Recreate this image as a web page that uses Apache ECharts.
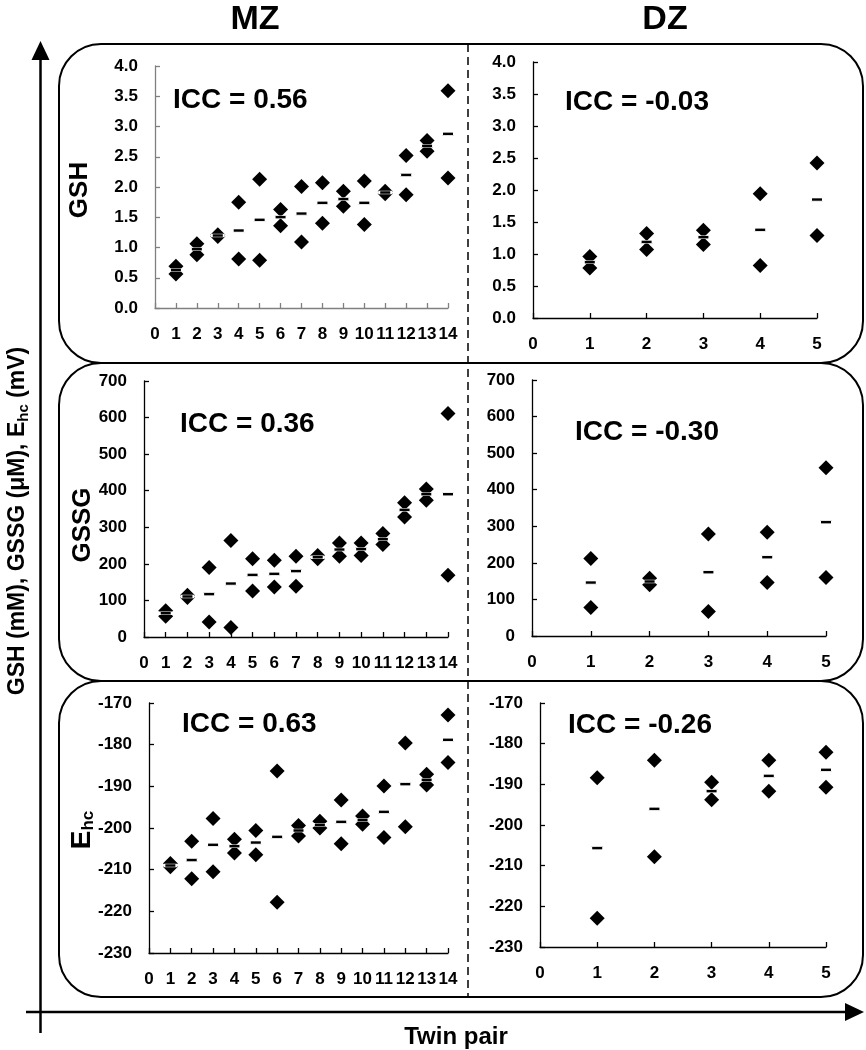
<!DOCTYPE html>
<html>
<head>
<meta charset="utf-8">
<script src="https://cdn.jsdelivr.net/npm/echarts@6/dist/echarts.min.js"></script>
<style>
html,body{margin:0;padding:0;background:#fff;}
#chart{width:866px;height:1050px;}
</style>
</head>
<body>
<div id="chart"></div>
<script>
// ---------- data ----------
const mzPairs = [1,2,3,4,5,6,7,8,9,10,11,12,13,14];
const dzPairs = [1,2,3,4,5];

const mzGshA    = [0.69, 1.06, 1.21, 1.75, 2.13, 1.63, 2.01, 2.07, 1.93, 2.10, 1.93, 2.52, 2.77, 3.59];
const mzGshB    = [0.56, 0.88, 1.18, 0.81, 0.79, 1.36, 1.09, 1.40, 1.68, 1.38, 1.89, 1.87, 2.59, 2.15];
const mzGshMean = [0.63, 0.97, 1.20, 1.28, 1.46, 1.50, 1.56, 1.74, 1.80, 1.74, 1.91, 2.20, 2.68, 2.88];

const dzGshA    = [0.96, 1.32, 1.37, 1.94, 2.42];
const dzGshB    = [0.78, 1.07, 1.15, 0.82, 1.29];
const dzGshMean = [0.87, 1.19, 1.26, 1.38, 1.85];

const mzGssgA    = [72, 114, 190, 264, 214, 210, 221, 223, 257, 257, 283, 367, 405, 611];
const mzGssgB    = [57, 108, 41, 26, 126, 137, 139, 214, 221, 223, 253, 328, 374, 169];
const mzGssgMean = [65, 111, 117, 146, 170, 173, 180, 218, 239, 240, 267, 348, 390, 390];

const dzGssgA    = [212, 158, 279, 284, 460];
const dzGssgB    = [78, 140, 67, 146, 160];
const dzGssgMean = [146, 149, 174, 215, 311];

const mzEhcA    = [-208.5, -203.2, -197.7, -202.7, -200.6, -186.3, -199.4, -198.4, -193.3, -197.1, -189.9, -179.6, -187.1, -172.9];
const mzEhcB    = [-209.3, -212.2, -210.5, -206.0, -206.4, -217.8, -201.9, -200.0, -203.8, -199.1, -202.3, -199.7, -189.7, -184.3];
const mzEhcMean = [-209.0, -207.7, -204.0, -204.4, -203.5, -202.1, -200.6, -199.2, -198.5, -198.1, -196.1, -189.5, -188.4, -178.8];

const dzEhcA    = [-188.4, -184.1, -189.5, -184.1, -182.1];
const dzEhcB    = [-222.9, -207.8, -193.8, -191.7, -190.7];
const dzEhcMean = [-205.7, -196.0, -191.7, -187.9, -186.4];

const iccLabels = ['ICC = 0.56', 'ICC = -0.03', 'ICC = 0.36', 'ICC = -0.30', 'ICC = 0.63', 'ICC = -0.26'];
const gshTicks  = {min: 0, max: 4, interval: 0.5};
const gssgTicks = {min: 0, max: 700, interval: 100};
const ehcTicks  = {min: -230, max: -170, interval: 10};

// ---------- layout ----------
const FONT = '"Liberation Sans", Arial, sans-serif';
const grids = [
  {left: 155, top: 66,  width: 293, height: 242},
  {left: 533, top: 62,  width: 284, height: 256},
  {left: 144, top: 381, width: 304, height: 256},
  {left: 532, top: 380, width: 294, height: 256},
  {left: 149, top: 703, width: 299, height: 250},
  {left: 540, top: 703, width: 286, height: 244}
];
const iccPos = [[173,100],[565,102],[180,424],[575,432],[182,724],[568,725]];

const panels = [
  {pairs: mzPairs, a: mzGshA,  b: mzGshB,  m: mzGshMean,  xmax: 14, y: gshTicks,  fmt: v => v.toFixed(1), axisColor: '#808080'},
  {pairs: dzPairs, a: dzGshA,  b: dzGshB,  m: dzGshMean,  xmax: 5,  y: gshTicks,  fmt: v => v.toFixed(1), axisColor: '#000'},
  {pairs: mzPairs, a: mzGssgA, b: mzGssgB, m: mzGssgMean, xmax: 14, y: gssgTicks, fmt: v => String(v),  axisColor: '#000'},
  {pairs: dzPairs, a: dzGssgA, b: dzGssgB, m: dzGssgMean, xmax: 5,  y: gssgTicks, fmt: v => String(v),  axisColor: '#000'},
  {pairs: mzPairs, a: mzEhcA,  b: mzEhcB,  m: mzEhcMean,  xmax: 14, y: ehcTicks,  fmt: v => String(v),  axisColor: '#000'},
  {pairs: dzPairs, a: dzEhcA,  b: dzEhcB,  m: dzEhcMean,  xmax: 5,  y: ehcTicks,  fmt: v => String(v),  axisColor: '#000'}
];

const xAxes = [], yAxes = [], series = [];
panels.forEach((p, i) => {
  const lbl = {color: '#000', fontWeight: 'bold', fontSize: 17, fontFamily: FONT};
  xAxes.push({
    type: 'value', gridIndex: i, min: 0, max: p.xmax, interval: 1,
    axisLine: {show: true, onZero: false, lineStyle: {color: p.axisColor, width: 1.3}},
    axisTick: {show: true, inside: true, length: 5, lineStyle: {color: p.axisColor, width: 1.3}},
    splitLine: {show: false},
    axisLabel: Object.assign({margin: 18, showMinLabel: true, showMaxLabel: true}, lbl)
  });
  yAxes.push({
    type: 'value', gridIndex: i, min: p.y.min, max: p.y.max, interval: p.y.interval,
    axisLine: {show: true, onZero: false, lineStyle: {color: p.axisColor, width: 1.3}},
    axisTick: {show: true, inside: true, length: 5, lineStyle: {color: p.axisColor, width: 1.3}},
    splitLine: {show: false},
    axisLabel: Object.assign({margin: 17, formatter: p.fmt}, lbl)
  });
  const pts = [];
  p.pairs.forEach((x, k) => { pts.push([x, p.a[k]]); pts.push([x, p.b[k]]); });
  series.push({
    type: 'scatter', xAxisIndex: i, yAxisIndex: i, symbol: 'diamond', symbolSize: 15,
    itemStyle: {color: '#000', opacity: 1}, data: pts, silent: true, z: 3
  });
  series.push({
    type: 'scatter', xAxisIndex: i, yAxisIndex: i, symbol: 'rect', symbolSize: [12, 3],
    itemStyle: {color: '#000', opacity: 1, borderColor: '#fff', borderWidth: 1},
    data: p.pairs.map((x, k) => [x, p.m[k]]), silent: true, z: 4
  });
});

// ---------- decorations ----------
const graphic = [];
const boxes = [[44, 319], [363, 318], [681, 316]];
boxes.forEach(b => graphic.push({
  type: 'rect', shape: {x: 59, y: b[0], width: 804, height: b[1], r: 42},
  style: {fill: 'none', stroke: '#000', lineWidth: 2}, z: 1
}));
graphic.push({type: 'line', shape: {x1: 468, y1: 44, x2: 468, y2: 997},
  style: {stroke: '#000', lineWidth: 1.5, lineDash: [8, 5]}, z: 1});
// big axes
graphic.push({type: 'line', shape: {x1: 40.5, y1: 56, x2: 40.5, y2: 1033}, style: {stroke: '#000', lineWidth: 2.5}, z: 1});
graphic.push({type: 'polygon', shape: {points: [[40.5, 41], [31.5, 60], [49.5, 60]]}, style: {fill: '#000'}, z: 1});
graphic.push({type: 'line', shape: {x1: 26, y1: 1012, x2: 848, y2: 1012}, style: {stroke: '#000', lineWidth: 2.5}, z: 1});
graphic.push({type: 'polygon', shape: {points: [[864, 1012], [845, 1003], [845, 1021]]}, style: {fill: '#000'}, z: 1});

function txt(x, y, text, size, opts) {
  return Object.assign({
    type: 'text', x: x, y: y, z: 5,
    style: {text: text, fill: '#000', font: 'bold ' + size + 'px ' + FONT,
            align: 'center', verticalAlign: 'middle'}
  }, opts || {});
}
graphic.push(txt(255, 20, 'MZ', 34));
graphic.push(txt(665, 20, 'DZ', 34));
graphic.push(txt(456, 1037, 'Twin pair', 24));
iccLabels.forEach((t, i) => {
  const g = txt(iccPos[i][0], iccPos[i][1], t, 28);
  g.style.align = 'left';
  graphic.push(g);
});
graphic.push(txt(80, 190, 'GSH', 26, {rotation: Math.PI / 2}));
graphic.push(txt(83, 525, 'GSSG', 26, {rotation: Math.PI / 2}));
graphic.push({
  type: 'text', x: 82, y: 830, rotation: Math.PI / 2, z: 5,
  style: {
    text: '{m|E}{s|hc}', align: 'center', verticalAlign: 'middle',
    rich: {
      m: {fontSize: 28, fontWeight: 'bold', fontFamily: FONT, fill: '#000', lineHeight: 30, verticalAlign: 'middle'},
      s: {fontSize: 17, fontWeight: 'bold', fontFamily: FONT, fill: '#000', lineHeight: 14, verticalAlign: 'bottom'}
    }
  }
});
graphic.push({
  type: 'text', x: 18, y: 521, rotation: Math.PI / 2, z: 5,
  style: {
    text: '{m|GSH (mM), GSSG (μM), E}{s|hc}{m| (mV)}', align: 'center', verticalAlign: 'middle',
    rich: {
      m: {fontSize: 23, fontWeight: 'bold', fontFamily: FONT, fill: '#000', lineHeight: 26, verticalAlign: 'middle'},
      s: {fontSize: 15, fontWeight: 'bold', fontFamily: FONT, fill: '#000', lineHeight: 12, verticalAlign: 'bottom'}
    }
  }
});

const chart = echarts.init(document.getElementById('chart'), null, {renderer: 'canvas'});
chart.setOption({
  backgroundColor: '#fff',
  animation: false,
  grid: grids.map(g => Object.assign({containLabel: false}, g)),
  xAxis: xAxes,
  yAxis: yAxes,
  series: series,
  graphic: graphic
});
</script>
</body>
</html>
